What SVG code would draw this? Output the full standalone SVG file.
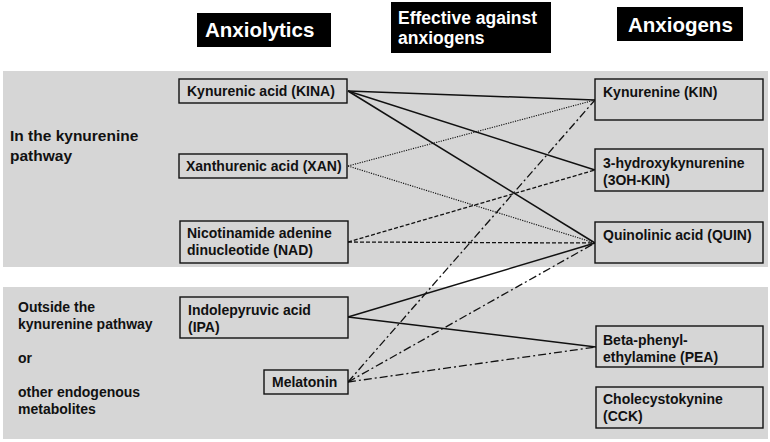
<svg xmlns="http://www.w3.org/2000/svg" width="770" height="442" viewBox="0 0 770 442">
<style>
text{font-family:"Liberation Sans",Arial,sans-serif;font-weight:bold;fill:#111}
.hdr rect{fill:#000}
.hdr text{fill:#fff;font-size:20.5px}
.hdr2 text{font-size:17.5px}
.band{fill:#d6d6d6}
.node rect{fill:#d6d6d6;stroke:#111;stroke-width:1.4}
.node text{font-size:14px}
.side{font-size:14px}
.big{font-size:15.5px}
#connectors line{stroke:#111;fill:none}
.solid{stroke-width:1.5}
.dot{stroke-width:1.1;stroke-dasharray:1.2 1.2}
.dash{stroke-width:1.3;stroke-dasharray:4 2}
.dashdot{stroke-width:1.3;stroke-dasharray:8 3 2 3}
</style>
<rect class="band" x="3" y="71" width="765" height="196"/>
<rect class="band" x="3" y="287" width="765" height="152"/>
<g id="hdr-anxiolytics" class="hdr"><rect x="197" y="13" width="134" height="34"/><text x="205" y="37">Anxiolytics</text></g>
<g id="hdr-effective" class="hdr hdr2"><rect x="391" y="2" width="160" height="51"/><text x="398" y="24">Effective against</text><text x="398" y="44">anxiogens</text></g>
<g id="hdr-anxiogens" class="hdr"><rect x="617" y="7" width="126" height="34"/><text x="628" y="32">Anxiogens</text></g>
<g id="lbl-kyn"><text class="big" x="10" y="141">In the kynurenine</text><text class="big" x="10" y="161">pathway</text></g>
<g id="lbl-outside"><text class="side" x="18" y="312">Outside the</text><text class="side" x="18" y="329">kynurenine pathway</text><text class="side" x="18" y="363">or</text><text class="side" x="18" y="397">other endogenous</text><text class="side" x="18" y="414">metabolites</text></g>
<g id="connectors">
<line class="solid" x1="348" y1="91" x2="595" y2="100"/>
<line class="solid" x1="348" y1="91" x2="595" y2="170"/>
<line class="solid" x1="348" y1="91" x2="595" y2="243"/>
<line class="dot" x1="348" y1="166" x2="595" y2="100"/>
<line class="dot" x1="348" y1="166" x2="595" y2="243"/>
<line class="dash" x1="348" y1="242" x2="595" y2="170"/>
<line class="dash" x1="348" y1="242" x2="595" y2="243"/>
<line class="solid" x1="348" y1="317" x2="595" y2="243"/>
<line class="solid" x1="348" y1="317" x2="596" y2="347"/>
<line class="dashdot" x1="348" y1="382" x2="595" y2="100"/>
<line class="dashdot" x1="348" y1="382" x2="595" y2="243"/>
<line class="dashdot" x1="348" y1="382" x2="596" y2="347"/>
</g>
<g id="n-kina" class="node"><rect x="179" y="79" width="168" height="24"/><text x="187" y="96">Kynurenic acid (KINA)</text></g>
<g id="n-xan" class="node"><rect x="179" y="154" width="168" height="24"/><text x="186" y="171">Xanthurenic acid (XAN)</text></g>
<g id="n-nad" class="node"><rect x="180" y="221" width="168" height="42"/><text x="187" y="238">Nicotinamide adenine</text><text x="187" y="255">dinucleotide (NAD)</text></g>
<g id="n-ipa" class="node"><rect x="180" y="297" width="168" height="41"/><text x="188" y="315">Indolepyruvic acid</text><text x="188" y="332">(IPA)</text></g>
<g id="n-mel" class="node"><rect x="264" y="370" width="84" height="24"/><text x="272" y="387">Melatonin</text></g>
<g id="n-kin" class="node"><rect x="595" y="79" width="168" height="41"/><text x="603" y="97">Kynurenine (KIN)</text></g>
<g id="n-3oh" class="node"><rect x="595" y="149" width="168" height="42"/><text x="603" y="168">3-hydroxykynurenine</text><text x="603" y="185">(3OH-KIN)</text></g>
<g id="n-quin" class="node"><rect x="595" y="222" width="168" height="41"/><text x="603" y="240">Quinolinic acid (QUIN)</text></g>
<g id="n-pea" class="node"><rect x="596" y="326" width="167" height="41"/><text x="603" y="345">Beta-phenyl-</text><text x="603" y="362">ethylamine (PEA)</text></g>
<g id="n-cck" class="node"><rect x="596" y="387" width="167" height="41"/><text x="603" y="404">Cholecystokynine</text><text x="603" y="421">(CCK)</text></g>
</svg>
